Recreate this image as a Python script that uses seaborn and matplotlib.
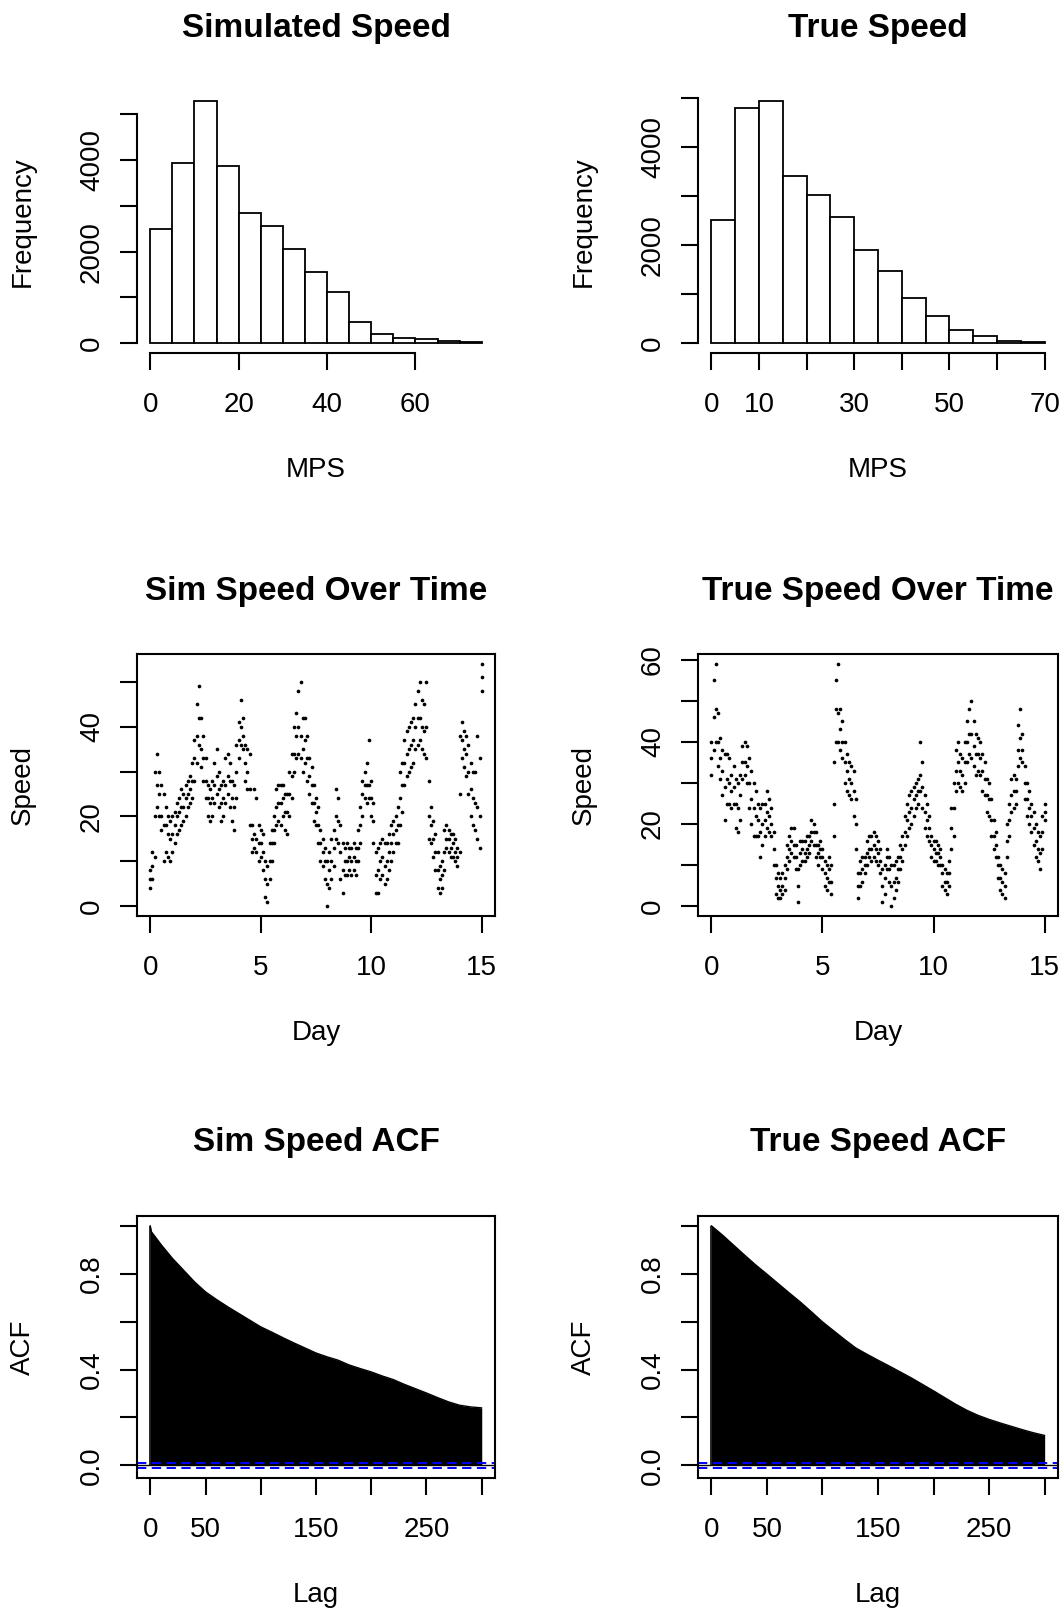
import numpy as np
import pandas as pd
import matplotlib
matplotlib.use("Agg")
import matplotlib.pyplot as plt
import seaborn as sns

# ---------------- data ----------------
bin_edges_sim = [0, 5, 10, 15, 20, 25, 30, 35, 40, 45, 50, 55, 60, 65, 70, 75]
sim_counts = [2485, 3924, 5291, 3866, 2834, 2558, 2057, 1548, 1119, 472, 203, 116, 102, 44, 22]
bin_edges_true = [0, 5, 10, 15, 20, 25, 30, 35, 40, 45, 50, 55, 60, 65, 70]
true_counts = [2517, 4810, 4952, 3422, 3027, 2571, 1905, 1483, 918, 558, 279, 143, 48, 27]

days = np.round(np.arange(151) * 0.1, 1)

sim_lo = [4, 6, 11, 22, 20, 17, 10, 12, 11, 10,
          12, 14, 16, 17, 18, 19, 20, 22, 23, 24,
          28, 32, 36, 31, 28, 24, 20, 19, 20, 23,
          25, 22, 19, 20, 23, 25, 22, 19, 17, 24,
          33, 36, 35, 28, 26, 18, 12, 13, 12, 10,
          11, 8, 2, 1, 6, 10, 14, 18, 19, 18,
          20, 17, 16, 20, 24, 30, 33, 34, 33, 30,
          32, 28, 25, 23, 19, 18, 14, 10, 9, 6,
          0, 4, 6, 9, 15, 14, 6, 3, 7, 7,
          8, 7, 8, 7, 10, 14, 20, 24, 23, 24,
          20, 14, 3, 3, 6, 7, 5, 6, 8, 10,
          12, 14, 14, 18, 21, 27, 29, 30, 31, 32,
          35, 36, 37, 35, 34, 33, 15, 14, 11, 8,
          4, 3, 4, 8, 13, 12, 11, 11, 10, 9,
          12, 33, 31, 29, 25, 20, 18, 17, 15, 13,
          48]
sim_mid = [6, 9, 20, 27, 25, 20, 18, 18, 16, 15,
           16, 18, 20, 21, 22, 22, 24, 25, 26, 28,
           33, 38, 42, 35, 33, 28, 24, 23, 24, 27,
           29, 26, 23, 24, 27, 29, 28, 24, 22, 30,
           37, 40, 38, 32, 30, 26, 15, 16, 15, 14,
           14, 12, 6, 5, 10, 14, 17, 22, 23, 23,
           24, 21, 21, 25, 29, 34, 38, 40, 38, 35,
           37, 33, 29, 27, 23, 21, 18, 14, 12, 10,
           5, 8, 10, 13, 20, 19, 12, 8, 10, 10,
           11, 10, 11, 10, 13, 18, 25, 27, 27, 27,
           24, 19, 7, 8, 10, 11, 9, 10, 12, 14,
           16, 17, 18, 24, 27, 32, 34, 35, 36, 37,
           40, 42, 42, 40, 39, 40, 20, 18, 15, 12,
           8, 6, 7, 12, 15, 15, 13, 14, 12, 11,
           25, 37, 35, 34, 30, 26, 24, 23, 22, 20,
           51]
sim_hi = [8, 12, 30, 34, 30, 27, 25, 22, 20, 19,
          20, 21, 23, 24, 26, 25, 27, 28, 29, 32,
          37, 45, 49, 42, 38, 33, 27, 26, 28, 32,
          35, 30, 27, 28, 33, 34, 32, 28, 27, 36,
          41, 46, 42, 36, 35, 34, 18, 26, 24, 18,
          17, 16, 10, 9, 14, 17, 20, 26, 27, 27,
          27, 25, 25, 30, 34, 40, 43, 48, 50, 42,
          42, 38, 33, 31, 27, 24, 22, 17, 15, 13,
          10, 12, 15, 17, 26, 24, 18, 14, 13, 14,
          13, 13, 14, 13, 17, 22, 28, 30, 32, 37,
          28, 23, 12, 13, 14, 15, 14, 14, 16, 18,
          19, 20, 22, 30, 32, 37, 39, 40, 41, 42,
          45, 48, 50, 46, 45, 50, 28, 22, 19, 16,
          12, 9, 10, 17, 18, 17, 16, 16, 15, 13,
          38, 41, 39, 38, 36, 32, 30, 30, 38, 33,
          54]

true_lo = [32, 38, 40, 34, 31, 27, 21, 25, 25, 24,
           25, 19, 18, 21, 31, 32, 30, 24, 20, 17,
           17, 17, 12, 15, 17, 19, 18, 17, 10, 3,
           2, 2, 3, 4, 9, 11, 13, 12, 9, 1,
           10, 11, 11, 12, 13, 16, 15, 12, 10, 12,
           9, 5, 4, 6, 3, 17, 40, 40, 38, 36,
           30, 28, 27, 26, 22, 14, 2, 5, 6, 8,
           10, 12, 11, 12, 11, 10, 8, 1, 3, 9,
           6, 0, 2, 4, 6, 9, 11, 15, 17, 19,
           20, 22, 24, 25, 28, 24, 19, 17, 16, 12,
           11, 11, 10, 10, 5, 4, 3, 5, 14, 17,
           28, 30, 29, 28, 30, 35, 37, 36, 34, 32,
           33, 32, 28, 27, 23, 22, 17, 14, 12, 7,
           4, 3, 2, 12, 17, 23, 24, 25, 34, 36,
           35, 26, 22, 20, 18, 15, 12, 11, 9, 14,
           21]
true_mid = [36, 46, 48, 40, 36, 33, 29, 31, 30, 28,
            29, 25, 24, 27, 35, 35, 34, 30, 26, 24,
            22, 21, 18, 20, 21, 23, 22, 20, 14, 7,
            5, 4, 5, 7, 12, 14, 16, 15, 12, 5,
            13, 14, 13, 14, 15, 18, 18, 15, 13, 14,
            12, 8, 7, 9, 6, 25, 48, 47, 43, 40,
            35, 33, 31, 30, 28, 20, 5, 8, 9, 10,
            13, 14, 14, 15, 14, 13, 11, 5, 7, 12,
            9, 5, 6, 7, 9, 12, 14, 18, 21, 23,
            24, 26, 27, 28, 32, 29, 23, 21, 19, 15,
            14, 13, 13, 12, 8, 6, 6, 8, 19, 24,
            33, 35, 33, 32, 35, 40, 42, 42, 39, 37,
            37, 36, 33, 31, 27, 26, 21, 17, 15, 10,
            7, 6, 5, 16, 21, 27, 28, 28, 38, 41,
            38, 30, 26, 24, 22, 19, 16, 14, 13, 18,
            23]
true_hi = [40, 55, 59, 47, 41, 38, 37, 37, 36, 32,
           34, 31, 30, 32, 39, 40, 39, 36, 33, 30,
           28, 25, 24, 25, 25, 28, 26, 24, 18, 10,
           8, 7, 8, 10, 15, 17, 19, 19, 15, 9,
           16, 16, 16, 17, 17, 21, 20, 18, 15, 16,
           14, 11, 10, 12, 10, 35, 55, 59, 48, 45,
           40, 37, 35, 34, 33, 26, 8, 11, 12, 12,
           16, 17, 17, 18, 17, 16, 14, 9, 10, 14,
           12, 10, 10, 11, 12, 15, 17, 22, 25, 27,
           28, 29, 30, 31, 40, 35, 27, 25, 22, 17,
           16, 16, 15, 14, 10, 9, 8, 11, 24, 30,
           38, 40, 37, 36, 40, 45, 48, 50, 45, 42,
           41, 40, 37, 35, 31, 30, 26, 21, 18, 12,
           10, 9, 8, 20, 25, 31, 32, 31, 44, 48,
           42, 34, 30, 28, 25, 23, 20, 18, 17, 22,
           25]

acf_lags = [0, 1, 10, 20, 30, 40, 50, 60, 70, 80, 90, 100, 110, 120, 130, 140, 150,
            160, 170, 180, 190, 200, 210, 220, 230, 240, 250, 260, 270, 280, 290, 300]
sim_acf = [1.0, 0.975, 0.92, 0.864, 0.815, 0.766, 0.724, 0.692, 0.662, 0.634, 0.606,
           0.578, 0.556, 0.533, 0.511, 0.490, 0.469, 0.453, 0.439, 0.419, 0.404, 0.390,
           0.373, 0.358, 0.338, 0.320, 0.302, 0.283, 0.265, 0.251, 0.244, 0.240]
true_acf = [1.0, 0.996, 0.961, 0.919, 0.877, 0.836, 0.798, 0.759, 0.720, 0.682, 0.641,
            0.599, 0.562, 0.525, 0.490, 0.464, 0.439, 0.415, 0.390, 0.365, 0.338, 0.311,
            0.283, 0.255, 0.230, 0.209, 0.192, 0.177, 0.163, 0.149, 0.136, 0.125]
acf_ci = 0.012

# ---------------- style ----------------
sns.set_style("white")
plt.rcParams['font.family'] = ['Liberation Sans', 'DejaVu Sans']
plt.rcParams['axes.linewidth'] = 1.5
plt.rcParams['text.color'] = 'black'
plt.rcParams['axes.labelcolor'] = 'black'
plt.rcParams['axes.titlecolor'] = 'black'
plt.rcParams['xtick.color'] = 'black'
plt.rcParams['ytick.color'] = 'black'
plt.rcParams['xtick.labelcolor'] = 'black'
plt.rcParams['ytick.labelcolor'] = 'black'

W, H = 1064, 1610
fig = plt.figure(figsize=(W / 100, H / 100), dpi=100)

col_x = [137, 698]
col_w = [358, 360]
row_top = [91, 654, 1216]
row_h = 262


def make_ax(r, c):
    left = col_x[c] / W
    bottom = 1 - (row_top[r] + row_h) / H
    return fig.add_axes([left, bottom, col_w[c] / W, row_h / H])


def rexp(lo, hi):
    d = (hi - lo) * 0.04
    return lo - d, hi + d


def style_axes(ax, title, xlabel, ylabel, xticks, xlabels, yticks, ylabels, box,
               title_pad=39):
    ax.set_xticks(xticks)
    ax.set_xticklabels(xlabels)
    ax.set_yticks(yticks)
    ax.set_yticklabels(ylabels, rotation=90, va='center')
    for sp in ax.spines.values():
        sp.set_linewidth(1.5)
        sp.set_color('black')
        sp.set_visible(box)
    if not box:
        ax.spines['bottom'].set_visible(True)
        ax.spines['left'].set_visible(True)
        ax.spines['bottom'].set_bounds(xticks[0], xticks[-1])
        ax.spines['left'].set_bounds(yticks[0], yticks[-1])
    ax.tick_params(axis='both', direction='out', length=12, width=1.5,
                   labelsize=20, colors='black', labelcolor='black',
                   bottom=True, left=True)
    ax.tick_params(axis='x', pad=16)
    ax.tick_params(axis='y', pad=11)
    ax.set_title(title, fontsize=24, fontweight='bold', pad=title_pad, color='black')
    ax.set_xlabel(xlabel, fontsize=20, color='black')
    ax.set_ylabel(ylabel, fontsize=20, color='black')
    ax.xaxis.label.set_va('center')
    ax.yaxis.label.set_va('center')
    bb_w = ax.get_position().width * W
    ax.xaxis.set_label_coords(0.5, -117 / row_h)
    ax.yaxis.set_label_coords(-114 / bb_w, 0.5)
    ax.grid(False)


# ---------- Row 1: histograms ----------
for c, (edges, counts, title, xt, xl) in enumerate([
        (bin_edges_sim, sim_counts, "Simulated Speed", [0, 20, 40, 60], ["0", "20", "40", "60"]),
        (bin_edges_true, true_counts, "True Speed", [0, 10, 20, 30, 40, 50, 60, 70],
         ["0", "10", "", "30", "", "50", "", "70"])]):
    ax = make_ax(0, c)
    mids = [(edges[i] + edges[i + 1]) / 2 for i in range(len(counts))]
    sns.histplot(x=mids, weights=counts, bins=edges, ax=ax, color='white',
                 edgecolor='black', linewidth=1.3, alpha=1.0)
    ax.set_xlim(*rexp(edges[0], edges[-1]))
    ax.set_ylim(*rexp(0, max(counts)))
    style_axes(ax, title, "MPS", "Frequency", xt, xl,
               [0, 1000, 2000, 3000, 4000, 5000], ["0", "", "2000", "", "4000", ""], box=False)

# ---------- Row 2: speed over time ----------
for c, (lo, mid, hi, title, yt, yl) in enumerate([
        (sim_lo, sim_mid, sim_hi, "Sim Speed Over Time", [0, 10, 20, 30, 40, 50],
         ["0", "", "20", "", "40", ""]),
        (true_lo, true_mid, true_hi, "True Speed Over Time", [0, 10, 20, 30, 40, 50, 60],
         ["0", "", "20", "", "40", "", "60"])]):
    ax = make_ax(1, c)
    df = pd.DataFrame({"Day": np.concatenate([days, days, days]),
                       "Speed": np.concatenate([lo, mid, hi])})
    sns.scatterplot(data=df, x="Day", y="Speed", ax=ax, color='black', s=7,
                    linewidth=0, marker='o')
    ax.set_xlim(*rexp(0, 15))
    ax.set_ylim(*rexp(df.Speed.min(), df.Speed.max()))
    style_axes(ax, title, "Day", "Speed", [0, 5, 10, 15], ["0", "5", "10", "15"],
               yt, yl, box=True)

# ---------- Row 3: ACF ----------
for c, (acf, title) in enumerate([(sim_acf, "Sim Speed ACF"), (true_acf, "True Speed ACF")]):
    ax = make_ax(2, c)
    ax.fill_between(acf_lags, 0, acf, color='black', linewidth=0)
    sns.lineplot(x=acf_lags, y=acf, ax=ax, color='black', linewidth=1)
    ax.vlines(acf_lags[0], 0, acf[0], color='black', linewidth=1.2)
    ax.axhline(0, color='black', linewidth=1.0)
    ax.axhline(acf_ci, color='blue', linewidth=1.4, linestyle=(0, (4.8, 2.8)))
    ax.axhline(-acf_ci, color='blue', linewidth=1.4, linestyle=(0, (4.8, 2.8)))
    ax.set_xlim(*rexp(0, 300))
    ax.set_ylim(*rexp(-acf_ci, 1.0))
    style_axes(ax, title, "Lag", "ACF", [0, 50, 100, 150, 200, 250, 300],
               ["0", "50", "", "150", "", "250", ""],
               [0.0, 0.2, 0.4, 0.6, 0.8, 1.0], ["0.0", "", "0.4", "", "0.8", ""], box=True,
               title_pad=47)

fig.savefig("out.png", dpi=100)
